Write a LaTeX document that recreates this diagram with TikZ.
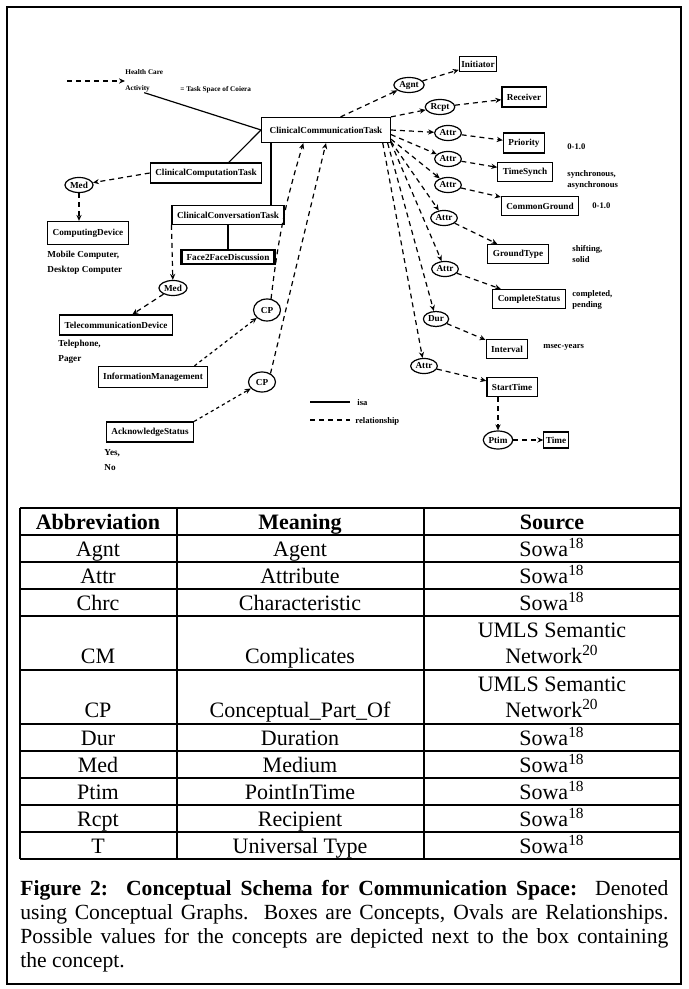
\documentclass[tikz,border=0pt]{standalone}
\usepackage{fontspec}
\setmainfont{Liberation Serif}
\usetikzlibrary{shapes.geometric,arrows.meta}

\begin{document}
\begin{tikzpicture}[x=0.5pt,y=-0.5pt]

      \tikzset{concept/.style={draw, line width=.6pt, inner xsep=2.5pt, inner ysep=0pt, minimum height=9.5pt, font=\fontsize{4.6}{5}\selectfont\bfseries},
               rel/.style={draw, ellipse, line width=.6pt, inner sep=.5pt, minimum height=7.5pt, font=\fontsize{4.6}{5}\selectfont\bfseries},
               vals/.style={align=left, inner sep=0pt, font=\fontsize{4.3}{5.5}\selectfont\bfseries},
               isa/.style={line width=.6pt},
               link/.style={line width=.6pt, dash pattern=on 2.5pt off 2pt, -{Stealth[length=3pt, width=2.6pt]}},
               cplink/.style={link, dash pattern=on 1.6pt off 1.6pt},
               cell/.style={anchor=base, inner sep=0pt, font=\fontsize{11}{13}\selectfont}}

      \useasboundingbox (0,0) rectangle (689,989);
      \draw[line width=1pt] (7,7) rectangle (681,984);

%% Concepts
      \node[concept, inner xsep=4pt, minimum height=12.5pt] (cct) at (326,130) {ClinicalCommunicationTask};
      \node[concept, minimum height=10pt] (ccomp) at (206,173) {ClinicalComputationTask};
      \node[concept, minimum height=11.5pt] (cdev) at (88,233) {ComputingDevice};
      \node[concept] (cconv) at (228,215) {ClinicalConversationTask};
      \node[concept, line width=1.2pt, minimum height=7pt] (f2f) at (228,257) {Face2FaceDiscussion};
      \node[concept, minimum height=10pt] (tdev) at (116,325) {TelecommunicationDevice};
      \node[concept, minimum height=10.5pt] (infom) at (153,377) {InformationManagement};
      \node[concept, minimum height=10pt] (ack) at (150,432) {AcknowledgeStatus};
      \node[concept, inner xsep=1pt, minimum height=7.5pt] (init) at (478,64) {Initiator};
      \node[concept, minimum height=10pt] (recv) at (524,97) {Receiver};
      \node[concept, minimum height=10pt] (prio) at (524,143) {Priority};
      \node[concept] (tsyn) at (525,172) {TimeSynch};
      \node[concept] (cgnd) at (540,206) {CommonGround};
      \node[concept] (gtyp) at (518,254) {GroundType};
      \node[concept] (csta) at (529,299) {CompleteStatus};
      \node[concept] (intv) at (507,349) {Interval};
      \node[concept] (stim) at (512,387) {StartTime};
      \node[concept, inner xsep=1pt, minimum height=8pt] (time) at (556,440) {Time};

%% Relations
      \node[rel] (med1) at (79,185) {Med};
      \node[rel] (med2) at (173,288) {Med};
      \node[rel, minimum width=13.5pt, minimum height=11pt] (cp1) at (267,310) {CP};
      \node[rel, minimum width=13.5pt, minimum height=10pt] (cp2) at (262,382) {CP};
      \node[rel] (agnt) at (409,85) {Agnt};
      \node[rel] (rcpt) at (440,107) {Rcpt};
      \node[rel] (attr1) at (448,133) {Attr};
      \node[rel] (attr2) at (448,159) {Attr};
      \node[rel] (attr3) at (448,185) {Attr};
      \node[rel] (attr4) at (444,218) {Attr};
      \node[rel] (attr5) at (445,269) {Attr};
      \node[rel] (dur) at (436,319) {Dur};
      \node[rel] (attr6) at (424,366) {Attr};
      \node[rel, minimum width=10pt, minimum height=9pt] (ptim) at (498,440) {Ptim};

%% Values
      \node[vals, anchor=west, font=\fontsize{3.6}{8}\selectfont\bfseries] (hca) at (125,81) {Health Care\\Activity};
      \node[vals, anchor=west, font=\fontsize{3.6}{8}\selectfont\bfseries] (coiera) at (180,90) {= Task Space of Coiera};
      \coordinate (hcin) at (67,81);
      \node[vals, anchor=north west, font=\fontsize{4.6}{7.5}\selectfont\bfseries] (cdevv) at (47,251) {Mobile Computer,\\Desktop Computer};
      \node[vals, anchor=north west, font=\fontsize{4.6}{7.5}\selectfont\bfseries] (tdevv) at (58,340) {Telephone,\\Pager};
      \node[vals, anchor=north west, font=\fontsize{4.6}{7.5}\selectfont\bfseries] (ackv) at (104,449) {Yes,\\No};
      \node[vals, anchor=west] (priov) at (567,147) {0-1.0};
      \node[vals, anchor=west] (tsynv) at (567,180) {synchronous,\\asynchronous};
      \node[vals, anchor=west] (cgndv) at (592,206) {0-1.0};
      \node[vals, anchor=west] (gtypv) at (572,254) {shifting,\\solid};
      \node[vals, anchor=west] (cstav) at (572,300) {completed,\\pending};
      \node[vals, anchor=west] (intvv) at (543,347) {msec-years};

%% Legend
      \coordinate (isa1) at (310,402);
      \coordinate (isa2) at (350,402);
      \node[vals, anchor=west] (isat) at (357,403) {isa};
      \coordinate (rel1) at (310,420);
      \coordinate (rel2) at (350,420);
      \node[vals, anchor=west] (relt) at (355,421) {relationship};
      \path[isa] (isa1) edge (isa2);
      \path[line width=.6pt, dash pattern=on 2.5pt off 2pt] (rel1) edge (rel2);

%Edges
      \coordinate (cvtop) at ([xshift=5pt]cct.south west);
		\path[isa] (hca.south) edge (cct.west);
		\path[isa] (ccomp.25) edge (cct.west);
		\path[isa] (cvtop) edge (cvtop |- cconv.north);
		\path[isa] (cconv.south) edge (f2f.north);
		\path[link] (hcin) edge (hca.west);
		\path[link] (ccomp.west) edge (med1);
		\path[link] (med1) edge (med1 |- cdev.north);
		\path[link] (cconv.190) edge (med2);
		\path[link] (med2) edge (tdev);
		\path[cplink] (infom.15) edge (cp1);
		\path[cplink] (ack.north east) edge (cp2);
		\path[link] (cp1.70) edge[bend left=5] (cct.210);
		\path[link] (cp2.45) edge (cct.south);
		\path[link] (cct.42) edge (agnt);
		\path[link] (agnt) edge (init);
		\path[link] (cct.north east) edge (rcpt);
		\path[link] (rcpt) edge (recv);
		\path[link] (cct.east) edge (attr1);
		\path[link] (attr1) edge (prio);
		\path[link] (cct.-4) edge (attr2);
		\path[link] (attr2) edge (tsyn);
		\path[link] (cct.-8) edge (attr3);
		\path[link] (attr3) edge (cgnd);
		\path[link] (cct.-10) edge (attr4);
		\path[link] (attr4) edge (gtyp);
		\path[link] (cct.-11) edge (attr5);
		\path[link] (attr5) edge (csta);
		\path[link] (cct.-12) edge (dur);
		\path[link] (dur) edge (intv);
		\path[link] (cct.-13) edge (attr6);
		\path[link] (attr6) edge (stim);
		\path[link] (stim.south -| ptim) edge (ptim);
		\path[link] (ptim) edge (time);

%% Table
      \foreach \y in {508,535,562,589,616,670,724,751,778,805,832,859}
        \draw[line width=.9pt] (20,\y) -- (680,\y);
      \foreach \x in {20,177,424,680}
        \draw[line width=.9pt] (\x,508) -- (\x,859);
      \node[cell, font=\fontsize{11}{13}\selectfont\bfseries] (hab) at (98,529) {Abbreviation};
      \node[cell, font=\fontsize{11}{13}\selectfont\bfseries] (hmn) at (300,529) {Meaning};
      \node[cell, font=\fontsize{11}{13}\selectfont\bfseries] (hsr) at (552,529) {Source};
      \foreach \ab/\mn/\yb [count=\i] in {Agnt/Agent/556, Attr/Attribute/583, Chrc/Characteristic/610,
                                          Dur/Duration/745, Med/Medium/772, Ptim/PointInTime/799,
                                          Rcpt/Recipient/826, T/Universal Type/853}{
        \node[cell] (ab\i) at (98,\yb) {\ab};
        \node[cell] (mn\i) at (300,\yb) {\mn};
        \node[cell] (sr\i) at (552,\yb) {Sowa\textsuperscript{18}};
      }
      \node[cell] (abcm) at (98,663) {CM};
      \node[cell] (mncm) at (300,663) {Complicates};
      \node[cell] (srcma) at (552,637) {UMLS Semantic};
      \node[cell] (srcmb) at (552,663) {Network\textsuperscript{20}};
      \node[cell] (abcp) at (98,717) {CP};
      \node[cell] (mncp) at (300,717) {Conceptual\_Part\_Of};
      \node[cell] (srcpa) at (552,691) {UMLS Semantic};
      \node[cell] (srcpb) at (552,717) {Network\textsuperscript{20}};

%% Caption
      \node[anchor=north west, inner sep=0pt, text width=324pt, align=justify, font=\fontsize{10.8}{12}\selectfont] (capt) at (20,880)
        {\textbf{Figure 2:\ \ Conceptual Schema for Communication Space:}\ \ Denoted\linebreak
         using Conceptual Graphs.\ \ Boxes are Concepts, Ovals are Relationships.\linebreak
         Possible values for the concepts are depicted next to the box containing\linebreak
         the concept.};

	\end{tikzpicture}
\end{document}
